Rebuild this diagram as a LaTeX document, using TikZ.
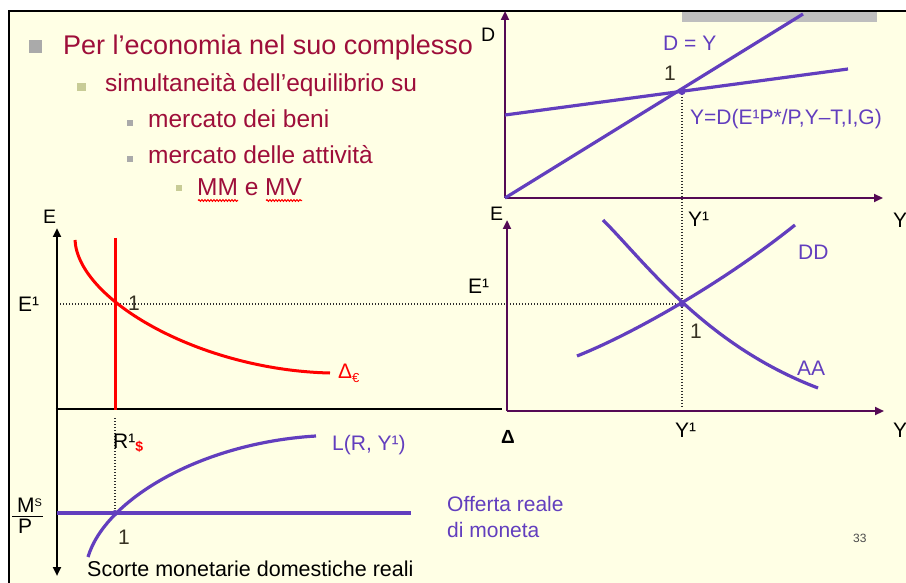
\documentclass[tikz,border=0pt]{standalone}
\usepackage{fontspec}
\setmainfont{Liberation Sans}
\usetikzlibrary{arrows.meta,decorations.pathmorphing}
\definecolor{bg}{RGB}{255,255,229}
\definecolor{crim}{RGB}{158,14,58}
\definecolor{pcurve}{RGB}{98,62,190}
\definecolor{paxis}{RGB}{85,10,85}
\definecolor{bulgray}{RGB}{170,170,170}
\definecolor{bulolive}{RGB}{200,204,150}
\definecolor{onecol}{RGB}{55,50,35}
\definecolor{dotcol}{RGB}{45,45,45}
\definecolor{barcol}{RGB}{190,190,190}
\begin{document}
\begin{tikzpicture}[x=1pt,y=-1pt,
  tip/.style={-{Triangle[length=9pt,width=8pt]}},
  axisB/.style={line width=2.8pt, black, tip},
  axisP/.style={line width=2.8pt, paxis, tip},
  curveP/.style={line width=3.2pt, pcurve},
  curveR/.style={line width=3pt, red},
  dotline/.style={line width=2pt, dotcol, dash pattern=on 1.4pt off 1.6pt},
  lbl/.style={anchor=base west, inner sep=0pt, font=\fontsize{21}{24}\selectfont},
  plbl/.style={lbl, text=pcurve},
  onelbl/.style={lbl, text=onecol},
  titleA/.style={anchor=base west, inner sep=0pt, text=crim, font=\fontsize{27}{30}\selectfont},
  titleB/.style={anchor=base west, inner sep=0pt, text=crim, font=\fontsize{24.5}{28}\selectfont}
]
\useasboundingbox (0,0) rectangle (906,583);
\fill[white] (0,0) rectangle (906,583);
\fill[bg] (9,11) rectangle (906,583);
\draw[black, line width=2pt] (9,583) -- (9,11) -- (906,11);
\fill[barcol] (682,12) rectangle (877,22);

% bullets and text
\fill[bulgray] (29,40) rectangle (42,53);
\node[titleA] (t1) at (63,55) {Per l’economia nel suo complesso};
\fill[bulolive] (77,83) rectangle (86,91);
\node[titleB] (t2) at (105,92) {simultaneità dell’equilibrio su};
\fill[bulgray] (127,120) rectangle (133,126);
\node[titleB] (t3) at (148,128) {mercato dei beni};
\fill[bulgray] (127,156) rectangle (133,162);
\node[titleB] (t4) at (148,164) {mercato delle attività};
\fill[bulolive] (176,185) rectangle (182,191);
\node[titleB] (t5) at (197,196) {MM e MV};
\draw[red, line width=1.1pt, decorate, decoration={snake, amplitude=0.8pt, segment length=3pt}] (198,200.5) -- (238,200.5);
\draw[red, line width=1.1pt, decorate, decoration={snake, amplitude=0.8pt, segment length=3pt}] (266,200.5) -- (302,200.5);

% coordinates
\coordinate (O1) at (505,198);
\coordinate (O2) at (507,411);
\coordinate (O3) at (57,409);
\coordinate (P1) at (682,91.5);
\coordinate (P2) at (682,304);
\coordinate (P3) at (115,513);

% dotted guides
\draw[dotline] (682,94) -- (682,408);
\draw[dotline] (60,304) -- (P2);
\draw[dotline] (115,418) -- (P3);

% top graph
\draw[axisP] (O1) -- (505,11);
\draw[axisP] (O1) -- (883,198);
\draw[curveP] (O1) -- (803,14);
\draw[curveP] (505,115) -- (848,69);
\fill[pcurve] (P1) circle (3.5pt);
\node[lbl, font=\fontsize{19.5}{22}\selectfont] (lD) at (481,42) {D};
\node[plbl] (lDY) at (663,51) {D = Y};
\node[onelbl] (l1a) at (664,81) {1};
\node[plbl] (lYD) at (690,125) {Y=D(E¹P*/P,Y–T,I,G)};
\node[lbl] (lY1a) at (688,227) {Y¹};
\node[lbl] (lYa) at (893,228) {Y};

% lower right graph
\draw[axisP] (O2) -- (507,220);
\draw[axisP] (O2) -- (884,411);
\draw[curveP] (577,356) .. controls (630,335) and (720,285) .. (795,225);
\draw[curveP] (603,220) .. controls (645,262) and (705,345) .. (818,388);
\fill[pcurve] (P2) circle (3.2pt);
\node[lbl, font=\fontsize{19.5}{22}\selectfont] (lE2) at (490,221) {E};
\node[lbl] (lE1r) at (468,293) {E¹};
\node[plbl] (lDD) at (798,260) {DD};
\node[plbl] (lAA) at (797,375) {AA};
\node[onelbl] (l1b) at (690,338) {1};
\node[lbl] (lY1b) at (675,437) {Y¹};
\node[lbl] (lYb) at (893,437) {Y};
\node[lbl, font=\bfseries\fontsize{19}{21}\selectfont] (lDelta) at (501,443) {Δ};

% left graph
\draw[line width=2.8pt, black] (55.6,409) -- (502,409);
\draw[axisB] (O3) -- (57,228);
\draw[axisB] (O3) -- (57,576);
\draw[curveR] (115,238) -- (115,410.4);
\draw[curveR] (75,240) .. controls (78,300) and (200,370) .. (330,373);
\node[lbl, font=\fontsize{19.5}{22}\selectfont] (lE) at (43,224) {E};
\node[lbl] (lE1l) at (18,311) {E¹};
\node[onelbl] (l1c) at (128,310) {1};
\node[lbl, text=red] (lDe) at (338,378) {Δ\raisebox{-4pt}{\fontsize{13}{13}\selectfont €}};

% bottom graph
\draw[curveP] (57,513) -- (411,513);
\draw[curveP] (88,557) .. controls (105,500) and (200,443) .. (316,436);
\fill[pcurve] (P3) circle (3pt);
\node[lbl] (lR) at (113,448) {R¹\raisebox{-3pt}{\fontsize{14}{14}\selectfont\bfseries\color{red}\$}};
\node[plbl] (lL) at (332,450) {L(R, Y¹)};
\node[onelbl] (l1d) at (118,544) {1};
\node[lbl] (lMs) at (17,512) {M\raisebox{6pt}{\fontsize{11}{11}\selectfont S}};
\draw[black, line width=1.1pt] (12,516.5) -- (43,516.5);
\node[lbl] (lP) at (18,533) {P};
\node[plbl] (lOf1) at (447,511) {Offerta reale};
\node[plbl] (lOf2) at (447,537) {di moneta};
\node[lbl, font=\fontsize{21.5}{24}\selectfont] (lSc) at (87,576) {Scorte monetarie domestiche reali};
\node[lbl, text=black!70, font=\fontsize{12}{14}\selectfont] (l33) at (853,542) {33};
\end{tikzpicture}
\end{document}
